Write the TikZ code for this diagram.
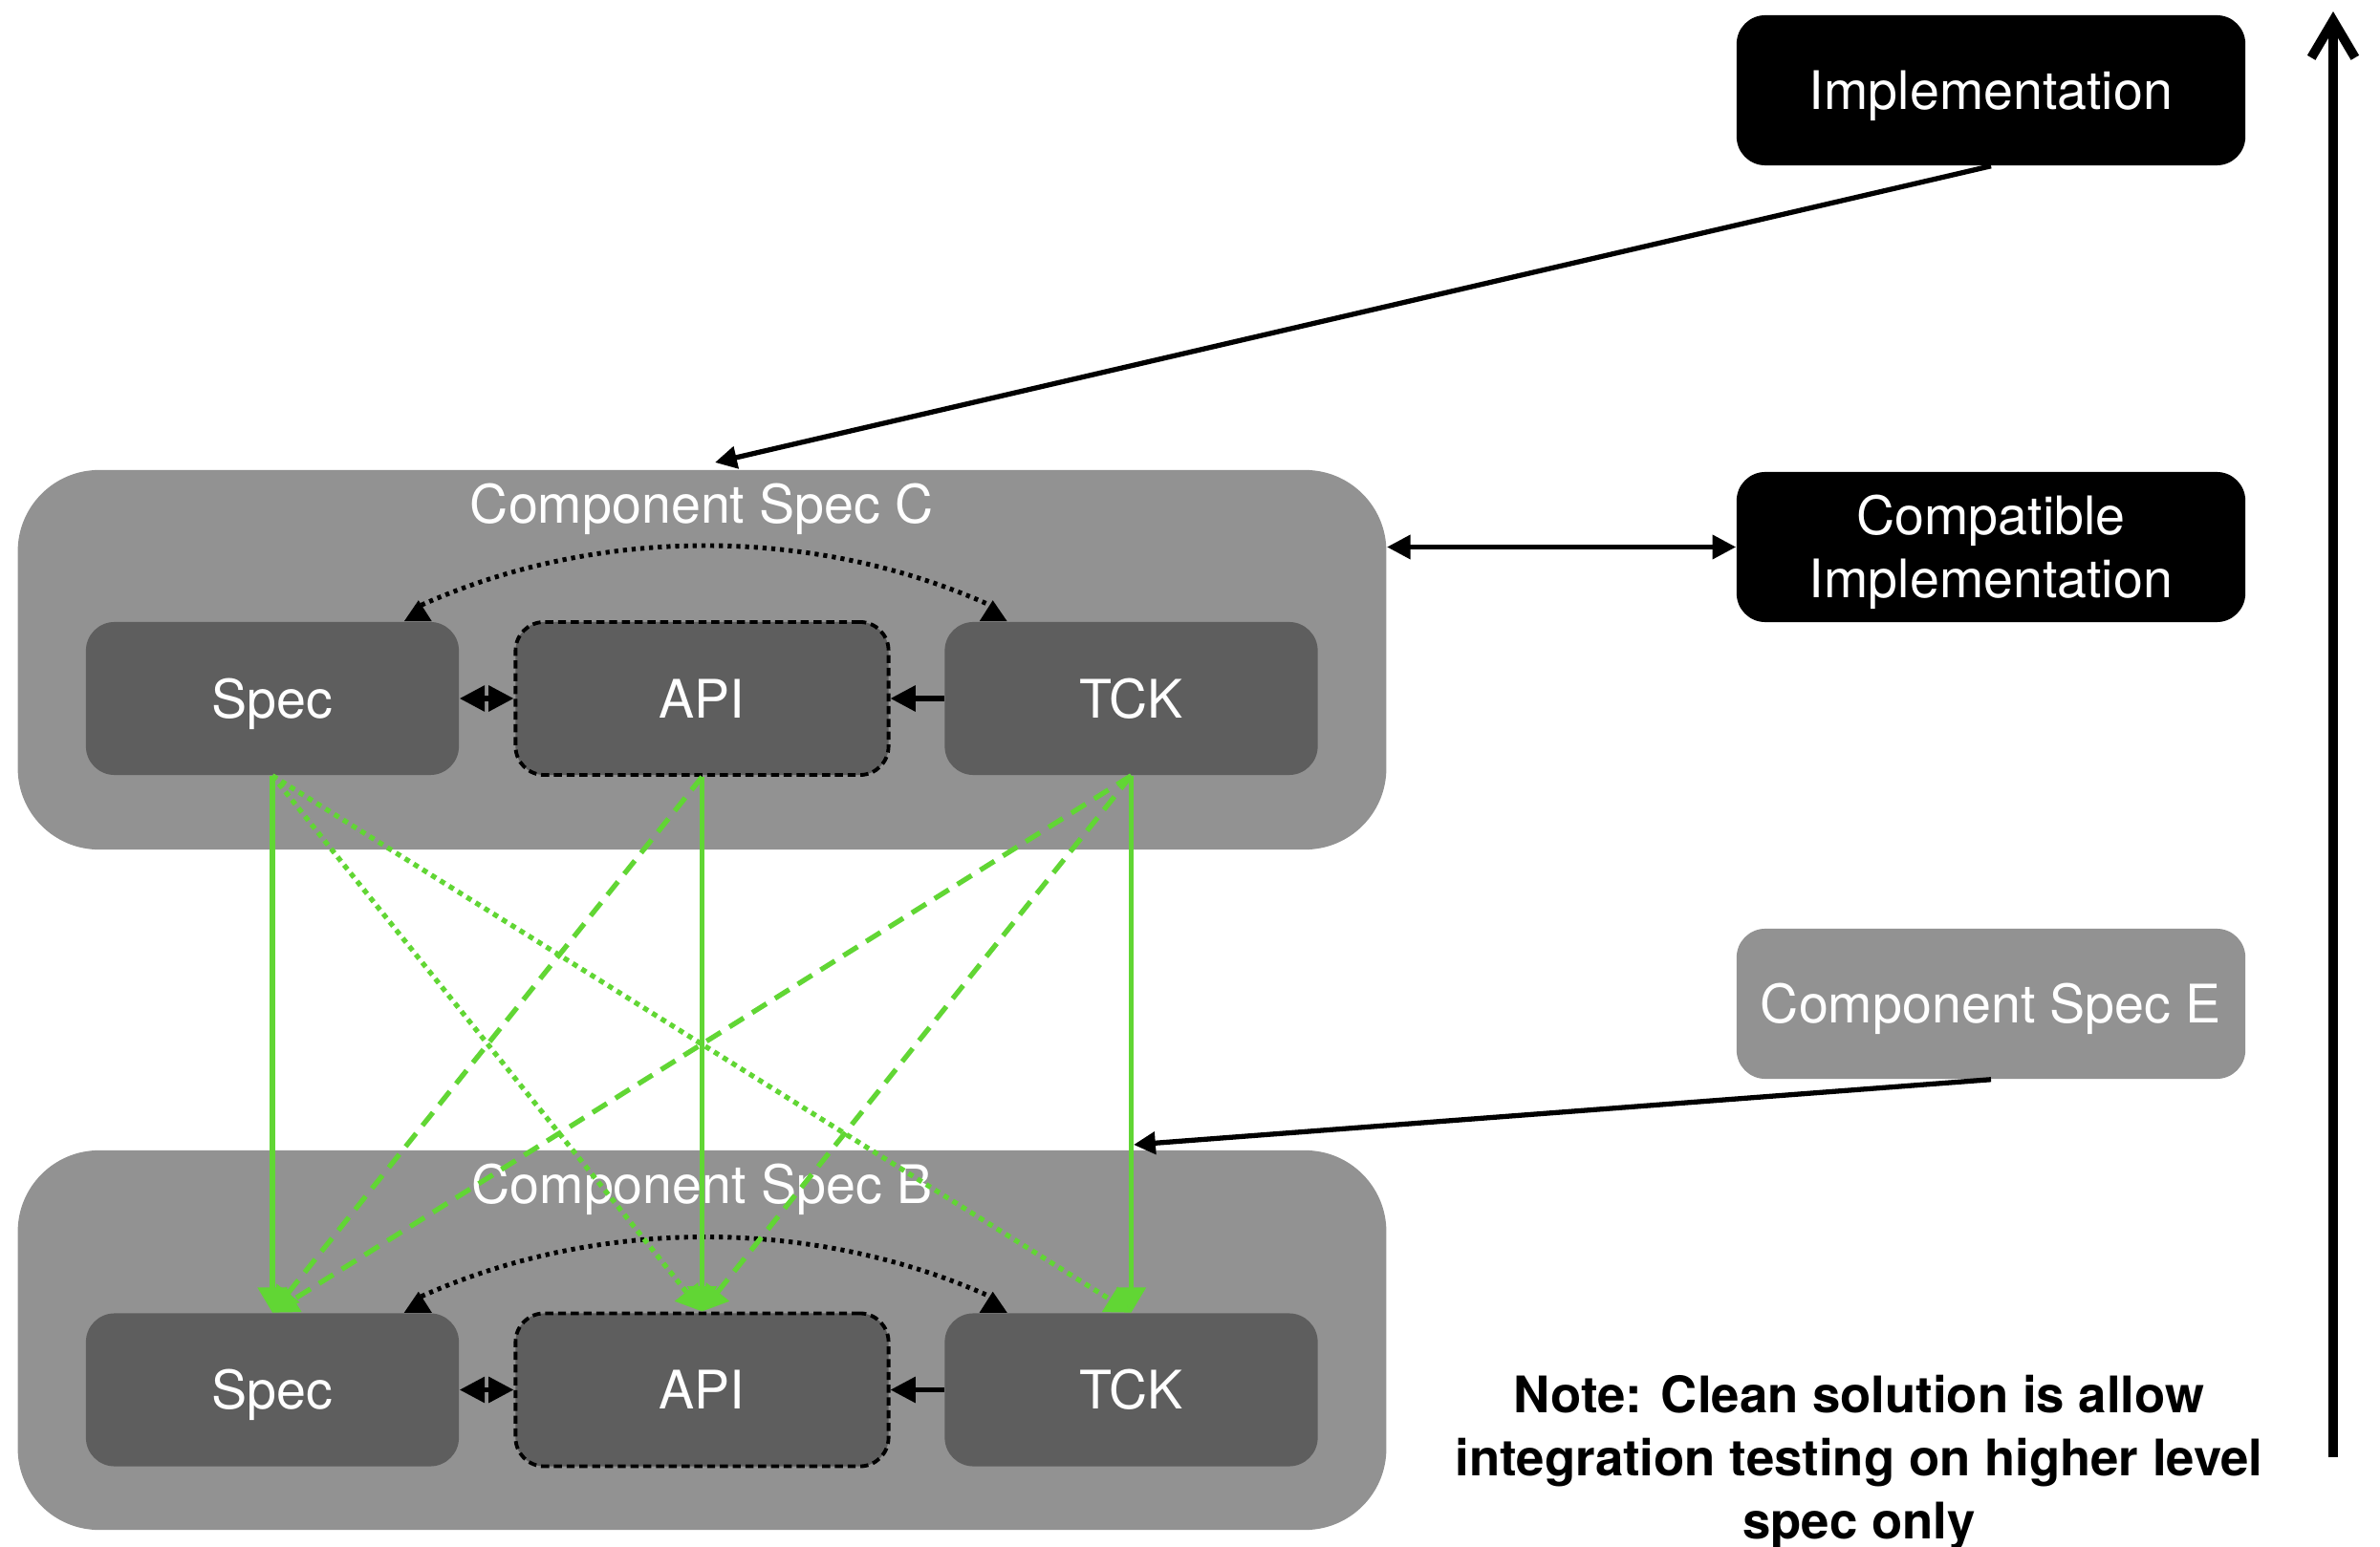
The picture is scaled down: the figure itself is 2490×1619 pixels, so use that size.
\documentclass[tikz,border=0pt]{standalone}
\usepackage{fontspec}
\setmainfont{TeX Gyre Heros}
\usetikzlibrary{arrows.meta,calc}
\definecolor{contgray}{RGB}{146,146,146}
\definecolor{boxgray}{RGB}{94,94,94}
\definecolor{lgreen}{RGB}{97,214,52}
\begin{document}
\begin{tikzpicture}[x=0.01cm,y=-0.01cm,
  container/.style={fill=contgray, draw=none, rounded corners=0.85cm, minimum width=14.31cm, minimum height=3.97cm, inner sep=0pt},
  inbox/.style={fill=boxgray, draw=none, rounded corners=0.3cm, minimum width=3.9cm, minimum height=1.6cm, text=white, font=\fontsize{15.8}{19}\selectfont, inner sep=0pt, text height=11.4pt, text depth=0pt},
  apibox/.style={inbox, draw=black, line width=1.1pt, dash pattern=on 2.4pt off 1.4pt},
  rbox/.style={rounded corners=0.3cm, minimum width=5.32cm, minimum height=1.57cm, text=white, align=center, font=\fontsize{15.8}{19}\selectfont, inner sep=0pt},
  ctitle/.style={text=white, font=\fontsize{15.8}{19}\selectfont, inner sep=0pt, text height=11.4pt, text depth=0pt},
  garrow/.style={draw=lgreen, line width=1.5pt, -{Triangle[length=7.5pt,width=8.5pt]}},
  gdot/.style={garrow, dash pattern=on 1.6pt off 1.5pt},
  gdash/.style={garrow, dash pattern=on 5pt off 3pt},
  blkarrow/.style={draw=black, line width=1.5pt, -{Triangle[length=6.5pt,width=6.5pt]}},
  blkdot/.style={draw=black, line width=1.4pt, dash pattern=on 1.2pt off 1.4pt},
  headfill/.style={fill=black}
]
\useasboundingbox (0,0) rectangle (2490,1619);

% containers
\node[container] (contC) at (734.5,690.5) {};
\node[container] (contB) at (734.5,1402.5) {};
\node[ctitle] (titleC) at (734.5,527) {Component Spec C};
\node[ctitle] (titleB) at (734.5,1239) {Component Spec B};

% inner boxes C
\node[inbox] (specC) at (285,731) {Spec};
\node[apibox] (apiC) at (734.5,731) {API};
\node[inbox] (tckC) at (1183.5,731) {TCK};
% inner boxes B
\node[inbox] (specB) at (285,1454.5) {Spec};
\node[apibox] (apiB) at (734.5,1454.5) {API};
\node[inbox] (tckB) at (1183.5,1454.5) {TCK};

% right boxes
\node[rbox, fill=black, text height=11.4pt, text depth=0pt] (impl) at (2083,94.5) {Implementation};
\node[rbox, fill=black, text height=30.4pt, text depth=0pt] (compat) at (2083,572.5) {Compatible\\Implementation};
\node[rbox, fill=contgray, text height=11.4pt, text depth=0pt] (specE) at (2083,1050.5) {Component Spec E};

% note
\node[font=\bfseries\fontsize{15}{18.8}\selectfont, align=center, inner sep=0pt] (note) at (1945,1531) {Note: Clean solution is allow\\integration testing on higher level\\spec only};

% vertical axis arrow
\coordinate (axB) at (2441,1525);
\coordinate (axT) at (2441,12);
\draw[line width=2.8pt, -{Straight Barb[length=11pt,width=13pt]}] (axB) -- (axT);

% inner arrows C
\draw[line width=1.5pt, {Triangle[length=7.5pt,width=7.5pt]}-{Triangle[length=7.5pt,width=7.5pt]}] (specC.east) -- (apiC.west);
\draw[line width=1.5pt, -{Triangle[length=7.5pt,width=7.5pt]}] (tckC.west) -- (apiC.east);
\draw[blkdot] ($(specC.north east)+(-40,-17)$) .. controls +(185,-83) and +(-185,-83) .. ($(tckC.north west)+(48,-17)$);
\fill[headfill] ($(specC.north east)+(-43,-22)$) -- ($(specC.north east)+(-58,0)$) -- ($(specC.north east)+(-29,0)$) -- cycle;
\fill[headfill] ($(tckC.north west)+(51,-22)$) -- ($(tckC.north west)+(37,0)$) -- ($(tckC.north west)+(66,0)$) -- cycle;
% inner arrows B
\draw[line width=1.5pt, {Triangle[length=7.5pt,width=7.5pt]}-{Triangle[length=7.5pt,width=7.5pt]}] (specB.east) -- (apiB.west);
\draw[line width=1.5pt, -{Triangle[length=7.5pt,width=7.5pt]}] (tckB.west) -- (apiB.east);
\draw[blkdot] ($(specB.north east)+(-40,-17)$) .. controls +(185,-83) and +(-185,-83) .. ($(tckB.north west)+(48,-17)$);
\fill[headfill] ($(specB.north east)+(-43,-22)$) -- ($(specB.north east)+(-58,0)$) -- ($(specB.north east)+(-29,0)$) -- cycle;
\fill[headfill] ($(tckB.north west)+(51,-22)$) -- ($(tckB.north west)+(37,0)$) -- ($(tckB.north west)+(66,0)$) -- cycle;

% right-side connectors
\coordinate (implTip) at (748,484);
\draw[blkarrow] (impl.south) -- (implTip);
\draw[draw=black, line width=1.5pt, {Triangle[length=7pt,width=7pt]}-{Triangle[length=7pt,width=7pt]}] (contC.east |- compat.west) -- (compat.west);
\coordinate (eTip) at (1186,1198);
\draw[blkarrow] (specE.south) -- (eTip);

% green arrows
\draw[garrow] (specC.south) -- (specB.north);
\draw[gdot] (specC.south) -- (apiB.north);
\draw[gdot] (specC.south) -- (tckB.north);
\draw[garrow] (apiC.south) -- (apiB.north);
\draw[gdash] (apiC.south) -- (specB.north);
\draw[garrow] (tckC.south) -- (tckB.north);
\draw[gdash] (tckC.south) -- (specB.north);
\draw[gdash] (tckC.south) -- (apiB.north);
\end{tikzpicture}
\end{document}
